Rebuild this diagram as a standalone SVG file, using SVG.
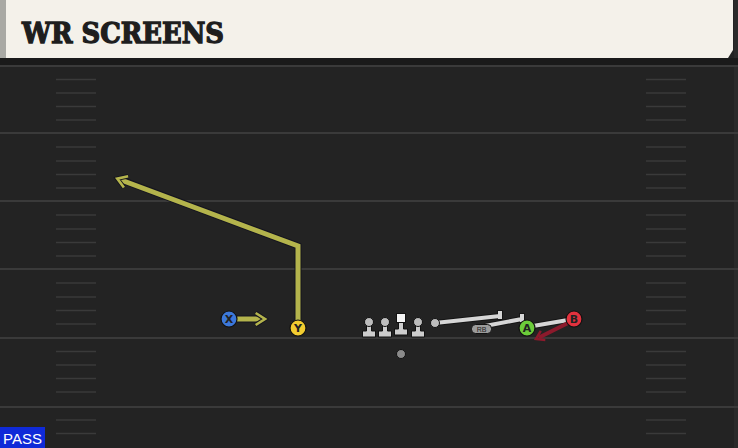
<svg xmlns="http://www.w3.org/2000/svg" width="738" height="448" viewBox="0 0 738 448">
<defs>
<style>
.yl{stroke:#3a3a3a;stroke-width:2}
.hs{stroke:#3a3a3a;stroke-width:1.5}
.ro{fill:none;stroke:#15151f;stroke-width:7;stroke-linejoin:miter;stroke-linecap:butt}
.ry{fill:none;stroke:#b4b44c;stroke-width:5;stroke-linejoin:miter}
.bl{fill:none;stroke:#d6d6d6;stroke-width:4}
.blo{fill:none;stroke:#151515;stroke-width:6}
.lab{font-family:"DejaVu Sans","Liberation Sans",sans-serif;font-weight:bold;font-size:11px;text-anchor:middle;fill:#222}
.ol{fill:#cdcdcd;stroke:#111;stroke-width:1}
.hd{fill:#bdbdbd;stroke:#111;stroke-width:1}
</style>
<marker id="ay" viewBox="0 0 12 12" refX="6" refY="6" markerWidth="3.2" markerHeight="3.2" orient="auto" markerUnits="strokeWidth">
<path d="M2,1.5 L9,6 L2,10.5" fill="none" stroke="#15151f" stroke-width="3.4"/>
<path d="M2,1.5 L9,6 L2,10.5" fill="none" stroke="#b4b44c" stroke-width="2"/>
</marker>
<marker id="ar" viewBox="0 0 12 12" refX="6" refY="6" markerWidth="3.4" markerHeight="3.4" orient="auto" markerUnits="strokeWidth">
<path d="M2,1.5 L9,6 L2,10.5" fill="none" stroke="#8c1a2c" stroke-width="2.2"/>
</marker>
</defs>
<rect width="738" height="448" fill="#232323"/>
<rect x="734" y="0" width="4" height="448" fill="#2a2a2a"/>
<g id="field">
<line class="yl" x1="0" y1="66" x2="738" y2="66"/>
<line class="yl" x1="0" y1="133" x2="738" y2="133"/>
<line class="yl" x1="0" y1="201" x2="738" y2="201"/>
<line class="yl" x1="0" y1="269" x2="738" y2="269"/>
<line class="yl" x1="0" y1="338" x2="738" y2="338"/>
<line class="yl" x1="0" y1="407" x2="738" y2="407"/>
<g id="hashes">
<path class="hs" d="M56,79.5H96M56,93H96M56,106.5H96M56,120H96M56,147H96M56,161H96M56,174.5H96M56,188H96M56,215H96M56,229H96M56,242.5H96M56,256H96M56,283H96M56,297H96M56,310.5H96M56,324H96M56,351.5H96M56,365H96M56,378.5H96M56,392H96M56,420H96M56,433.5H96"/>
<path class="hs" d="M646,79.5H686M646,93H686M646,106.5H686M646,120H686M646,147H686M646,161H686M646,174.5H686M646,188H686M646,215H686M646,229H686M646,242.5H686M646,256H686M646,283H686M646,297H686M646,310.5H686M646,324H686M646,351.5H686M646,365H686M646,378.5H686M646,392H686M646,420H686M646,433.5H686"/>
</g>
</g>
<g id="header">
<rect x="0" y="58" width="738" height="7" fill="#1a1a1a"/>
<path d="M0,0H733V50L728,58H0Z" fill="#f4f1ea"/>
<rect x="0" y="0" width="6" height="58" fill="#a9a9a4"/>
<text x="22" y="43" font-family="DejaVu Serif,'Liberation Serif',serif" font-weight="900" font-size="27" fill="#1e1e1e" stroke="#1e1e1e" stroke-width="1.3" textLength="202" lengthAdjust="spacingAndGlyphs">WR SCREENS</text>
</g>
<g id="connectors">
<path class="ro" d="M298,320V246L123,180.5"/>
<path class="ry" d="M298,320V246L121,180" marker-end="url(#ay)"/>
<path class="ro" d="M237,319H259"/>
<path class="ry" d="M237,319H261" marker-end="url(#ay)"/>
<path class="blo" d="M435,323L500,316M500,310V320"/>
<path class="bl" d="M435,323L500,316M500,311V319"/>
<path class="blo" d="M485,326L522,319M522,313V323"/>
<path class="bl" d="M485,326L522,319M522,314V322"/>
<path class="blo" d="M533,326L568,320"/>
<path class="bl" d="M533,326L568,320"/>
<path fill="none" stroke="#8c1a2c" stroke-width="4" d="M568,323L539,337.5" marker-end="url(#ar)"/>
</g>
<g id="LT"><path class="ol" d="M366.5,322h5v9h4v6h-13v-6h4z"/><circle class="hd" cx="369" cy="322" r="4.5"/></g>
<g id="LG"><path class="ol" d="M382.5,322h5v9h4v6h-13v-6h4z"/><circle class="hd" cx="385" cy="322" r="4.5"/></g>
<g id="C"><path class="ol" d="M398.5,320h5v9h4v6h-13v-6h4z"/><rect x="396.5" y="313.5" width="9" height="9" fill="#f4f4f4" stroke="#111"/></g>
<g id="RG"><path class="ol" d="M415.5,322h5v9h4v6h-13v-6h4z"/><circle class="hd" cx="418" cy="322" r="4.5"/></g>
<g id="RT"><circle class="hd" cx="435" cy="323" r="4.5"/></g>
<g id="QB"><circle cx="401" cy="354" r="4.5" fill="#8a8a8a" stroke="#111"/></g>
<g id="RB"><rect x="471.5" y="324.5" width="20" height="9" rx="4" fill="#9a9a9a" stroke="#111"/><text x="481.5" y="332" font-family="'Liberation Sans',sans-serif" font-size="7" text-anchor="middle" fill="#222">RB</text></g>
<g id="X"><circle cx="229" cy="319" r="8" fill="#3c78da" stroke="#111" stroke-width="1.2"/><text class="lab" x="229" y="323">X</text></g>
<g id="Y"><circle cx="298" cy="328" r="8" fill="#f2cc30" stroke="#111" stroke-width="1.2"/><text class="lab" x="298" y="332">Y</text></g>
<g id="A"><circle cx="527" cy="328" r="8" fill="#6ccc3a" stroke="#111" stroke-width="1.2"/><text class="lab" x="527" y="332">A</text></g>
<g id="B"><circle cx="574" cy="319" r="8" fill="#e2323e" stroke="#111" stroke-width="1.2"/><text class="lab" x="574" y="323">B</text></g>
<g id="tag">
<rect x="0" y="427" width="45" height="21" fill="#0f2ad8"/>
<text x="3" y="444" font-family="'Liberation Sans',sans-serif" font-size="15" fill="#ffffff">PASS</text>
</g>
</svg>
